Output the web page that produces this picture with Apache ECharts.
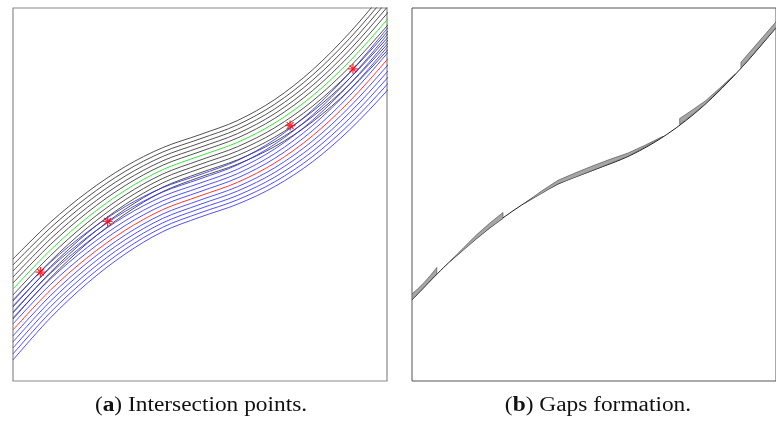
<!DOCTYPE html>
<html>
<head>
<meta charset="utf-8">
<script src="https://cdn.jsdelivr.net/npm/echarts@6/dist/echarts.min.js"></script>
<style>
  html, body { margin: 0; padding: 0; background: #fff; }
  #chart { width: 776px; height: 423px; }
</style>
</head>
<body>
<div id="chart"></div>
<script>
// ---- panel (a): two families of offset paths ----
// x positions of the samples (both panels use a 0–10 frame)
const sampleX = [0, 1, 2, 3, 4, 5, 6, 7, 8, 9, 10, 11];
// green reference path (middle of the upper family)
const greenPath = [2.466, 3.509, 4.391, 5.113, 5.665, 6.035, 6.397, 6.917, 7.638, 8.571, 9.684, 10.88];
// red reference path (middle of the lower family)
const redPath = [1.370, 2.437, 3.319, 4.041, 4.593, 4.963, 5.325, 5.845, 6.566, 7.499, 8.612, 9.81];
// vertical gap between neighbouring paths at each sample
const pathGap = [0.161, 0.149, 0.137, 0.127, 0.118, 0.114, 0.117, 0.126, 0.139, 0.153, 0.166, 0.175];
// path indices around each reference path (positive = lower)
const blackSteps = [-5, -4, -3, -2, -1, 1, 2, 3, 4, 5];
const blueSteps = [-5, -4, -3, -2, -1, 1, 2, 3, 4, 5];
// intersection points
const crossingPoints = [[0.735, 2.92], [2.53, 4.28], [7.41, 6.85], [9.09, 8.37]];

// ---- panel (b): the joined path and its gaps ----
const seamX = [0, 1, 2, 3, 4, 5, 6, 7, 8, 9, 10, 11];
const seamY = [2.172, 3.164, 4.003, 4.710, 5.276, 5.660, 6.048, 6.609, 7.370, 8.343, 9.469, 10.64];
// each gap: x samples, lower edge, upper edge
const gapX = [
  [0, 0.160, 0.348, 0.508, 0.682],
  [1.070, 1.417, 1.765, 2.139, 2.500],
  [3.102, 3.556, 4.011, 4.492, 4.973, 5.455, 5.936, 6.417, 6.898],
  [7.353, 7.701, 8.075, 8.449, 8.877],
  [9.037, 9.385, 9.733, 10.107]
];
const gapLow = [
  [2.172, 2.338, 2.534, 2.700, 2.869],
  [3.223, 3.512, 3.804, 4.102, 4.357],
  [4.767, 5.024, 5.282, 5.464, 5.649, 5.836, 6.024, 6.282, 6.552],
  [6.877, 7.142, 7.442, 7.807, 8.225],
  [8.386, 8.777, 9.169, 9.590]
];
const gapHigh = [
  [2.333, 2.472, 2.655, 2.834, 3.043],
  [3.231, 3.574, 3.911, 4.236, 4.518],
  [4.775, 5.091, 5.381, 5.582, 5.772, 5.949, 6.112, 6.330, 6.560],
  [7.038, 7.265, 7.522, 7.847, 8.233],
  [8.547, 8.938, 9.330, 9.751]
];

const chart = echarts.init(document.getElementById('chart'), null, { renderer: 'canvas' });

function pathLine(base, step, color, width, z) {
  return {
    type: 'line',
    xAxisIndex: 0, yAxisIndex: 0,
    data: sampleX.map((x, i) => [x, base[i] - step * pathGap[i]]),
    smooth: 0.33,
    showSymbol: false,
    silent: true,
    clip: true,
    z: z,
    lineStyle: { color: color, width: width }
  };
}

const series = [];
blackSteps.forEach(k => series.push(pathLine(greenPath, k, '#333333', 0.85, 2)));
series.push(pathLine(greenPath, 0, '#22e022', 0.9, 3));
blueSteps.forEach(k => series.push(pathLine(redPath, k, '#2424ff', 0.8, 4)));
series.push(pathLine(redPath, 0, '#ff2020', 0.9, 5));

series.push({
  type: 'scatter',
  xAxisIndex: 0, yAxisIndex: 0,
  data: crossingPoints,
  symbol: 'path://M5,0L5,10M0,5L10,5M1.6,1.6L8.4,8.4M8.4,1.6L1.6,8.4',
  symbolSize: 10,
  silent: true,
  z: 10,
  itemStyle: { color: '#ff0000', borderColor: '#ff0000', borderWidth: 1.3 }
});

// panel (b)
series.push({
  type: 'line',
  xAxisIndex: 1, yAxisIndex: 1,
  data: seamX.map((x, i) => [x, seamY[i]]),
  smooth: 0.33,
  showSymbol: false,
  silent: true,
  clip: true,
  z: 3,
  lineStyle: { color: '#000', width: 0.9 }
});
series.push({
  type: 'custom',
  xAxisIndex: 1, yAxisIndex: 1,
  data: gapX.map((_, i) => [i]),
  encode: { x: -1, y: -1 },
  clip: true,
  silent: true,
  z: 4,
  renderItem: function (params, api) {
    const g = params.dataIndex;
    const pts = [];
    gapX[g].forEach((x, i) => pts.push(api.coord([x, gapLow[g][i]])));
    for (let i = gapX[g].length - 1; i >= 0; i--) pts.push(api.coord([gapX[g][i], gapHigh[g][i]]));
    return {
      type: 'polygon',
      shape: { points: pts },
      style: { fill: '#a6a6a6', stroke: '#3a3a3a', lineWidth: 0.55 }
    };
  }
});

const axisOff = { type: 'value', min: 0, max: 10, show: false };

function caption(letter, rest, cx) {
  return {
    type: 'text', x: cx, y: 406, scaleX: 1.14,
    style: {
      text: '{n|(}{b|' + letter + '}{n|) ' + rest + '}',
      align: 'center', verticalAlign: 'middle',
      rich: {
        n: { fontFamily: 'Liberation Serif', fontSize: 20.5, fill: '#111' },
        b: { fontFamily: 'Liberation Serif', fontSize: 20.5, fontWeight: 'bold', fill: '#111' }
      }
    }
  };
}

chart.setOption({
  animation: false,
  backgroundColor: '#fff',
  grid: [
    { left: 13, top: 8, width: 374, height: 373, show: true, borderColor: '#8a8a8a', borderWidth: 1.2 },
    { left: 412, top: 8, width: 374, height: 373, show: true, borderColor: '#555', borderWidth: 1 }
  ],
  xAxis: [Object.assign({ gridIndex: 0 }, axisOff), Object.assign({ gridIndex: 1 }, axisOff)],
  yAxis: [Object.assign({ gridIndex: 0 }, axisOff), Object.assign({ gridIndex: 1 }, axisOff)],
  series: series,
  graphic: [
    caption('a', 'Intersection points.', 201),
    caption('b', 'Gaps formation.', 598)
  ]
});
</script>
</body>
</html>
